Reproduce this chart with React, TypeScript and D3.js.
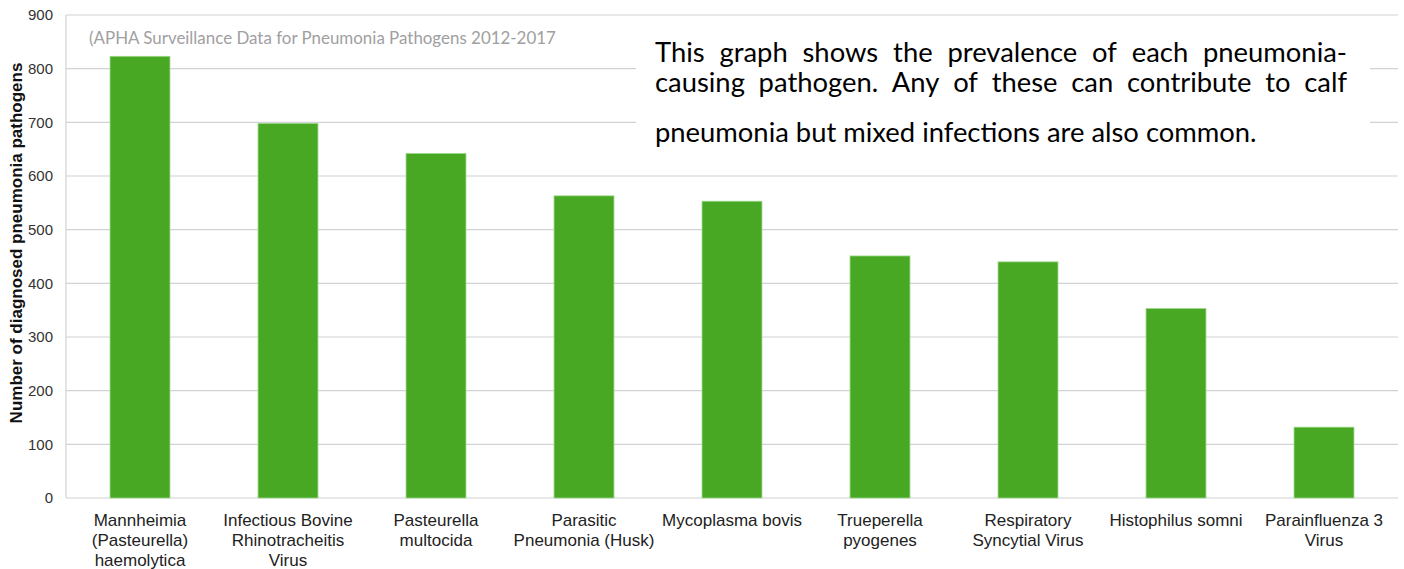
import React, { useMemo } from 'react';
import * as d3 from 'd3';

// APHA surveillance data, pneumonia pathogens 2012-2017
const pathogens = [
  'Mannheimia (Pasteurella) haemolytica',
  'Infectious Bovine Rhinotracheitis Virus',
  'Pasteurella multocida',
  'Parasitic Pneumonia (Husk)',
  'Mycoplasma bovis',
  'Trueperella pyogenes',
  'Respiratory Syncytial Virus',
  'Histophilus somni',
  'Parainfluenza 3 Virus',
];
const diagnoses = [823, 698, 642, 563, 553, 451, 440, 353, 132];
const pathogenLines = [
  ['Mannheimia', '(Pasteurella)', 'haemolytica'],
  ['Infectious Bovine', 'Rhinotracheitis', 'Virus'],
  ['Pasteurella', 'multocida'],
  ['Parasitic', 'Pneumonia (Husk)'],
  ['Mycoplasma bovis'],
  ['Trueperella', 'pyogenes'],
  ['Respiratory', 'Syncytial Virus'],
  ['Histophilus somni'],
  ['Parainfluenza 3', 'Virus'],
];
const yTicks = [0, 100, 200, 300, 400, 500, 600, 700, 800, 900];

const sourceNote = '(APHA Surveillance Data for Pneumonia Pathogens 2012-2017';
const noteLines = [
  'This graph shows the prevalence of each pneumonia-',
  'causing pathogen. Any of these can contribute to calf',
  'pneumonia but mixed infections are also common.',
];
const noteBaselines = [62, 92, 142];

const W = 1404;
const H = 569;
const margin = { top: 15, right: 6, bottom: 71, left: 66 };
const noteFont = 'Lato, "Open Sans", sans-serif';
const sansFont = '"Liberation Sans", Arial, sans-serif';

// measure text widths with a canvas so the note can be justified
let ctx: CanvasRenderingContext2D | null = null;
const measure = (text: string, font: string) => {
  if (!ctx) ctx = document.createElement('canvas').getContext('2d');
  ctx!.font = font;
  return ctx!.measureText(text).width;
};

const App = () => {
  const x = d3.scaleBand()
    .domain(pathogens)
    .range([margin.left, W - margin.right])
    .paddingInner(0.595)
    .paddingOuter(0.2975);

  const y = d3.scaleLinear()
    .domain([0, 900])
    .range([H - margin.bottom, margin.top]);

  // note text: fit size so last line spans ~602px, justify the first two
  const note = useMemo(() => {
    const left = 655;
    const right = 1347;
    const base = measure(noteLines[2], `1px ${noteFont}`);
    const size = 602 / base;
    const font = `${size}px ${noteFont}`;
    const lines = noteLines.map((line, i) => {
      const words = line.split(' ');
      if (i === noteLines.length - 1) {
        let cx = left;
        const space = measure(' ', font);
        return words.map(w => {
          const pos = cx;
          cx += measure(w, font) + space;
          return { w, pos };
        });
      }
      const widths = words.map(w => measure(w, font));
      const gap = (right - left - d3.sum(widths)) / (words.length - 1);
      let cx = left;
      return words.map((w, j) => {
        const pos = cx;
        cx += widths[j] + gap;
        return { w, pos };
      });
    });
    const srcSize = 468 / measure(sourceNote, `1px ${noteFont}`);
    return { size, lines, srcSize };
  }, []);

  return (
    <svg width={W} height={H} style={{ position: 'absolute', left: 0, top: 0, background: '#fff' }}>
      {/* gridlines */}
      <g>
        {yTicks.map(t => (
          <line key={t} x1={margin.left} x2={W - margin.right} y1={y(t)} y2={y(t)} stroke="#d2d2d2" strokeWidth={1.2} />
        ))}
        <line x1={margin.left} x2={margin.left} y1={y(900)} y2={y(0)} stroke="#d2d2d2" strokeWidth={1.2} />
      </g>

      {/* y tick labels */}
      <g fontFamily={sansFont} fontSize={15} fill="#333" textAnchor="end">
        {yTicks.map(t => (
          <text key={t} x={53} y={y(t)} dy="0.36em">{t}</text>
        ))}
      </g>

      <text
        transform={`translate(22,${243}) rotate(-90)`}
        textAnchor="middle"
        fontFamily={sansFont}
        fontSize={17}
        fontWeight="bold"
        fill="#111"
      >
        Number of diagnosed pneumonia pathogens
      </text>

      {/* bars */}
      <g>
        {pathogens.map((p, i) => (
          <rect
            key={p}
            x={x(p)}
            y={y(diagnoses[i])}
            width={x.bandwidth()}
            height={y(0) - y(diagnoses[i])}
            fill="#48a823"
            stroke="#9bd889"
            strokeWidth={0.8}
          />
        ))}
      </g>

      {/* x labels */}
      <g fontFamily={sansFont} fontSize={17} fill="#222" textAnchor="middle">
        {pathogens.map((p, i) => (
          <text key={p} x={x(p)! + x.bandwidth() / 2} y={526}>
            {pathogenLines[i].map((l, j) => (
              <tspan key={j} x={x(p)! + x.bandwidth() / 2} dy={j === 0 ? 0 : 20}>{l}</tspan>
            ))}
          </text>
        ))}
      </g>

      {/* source note */}
      <text x={89} y={44} fontFamily={noteFont} fontSize={note.srcSize} fill="#a0a0a0">
        {sourceNote}
      </text>

      {/* explanatory note over the chart */}
      <rect x={636} y={22} width={734} height={130} fill="#fff" />
      <g fontFamily={noteFont} fontSize={note.size} fill="#000">
        {note.lines.map((words, i) => (
          <text key={i} y={noteBaselines[i]}>
            {words.map((d, j) => (
              <tspan key={j} x={d.pos}>{d.w}</tspan>
            ))}
          </text>
        ))}
      </g>
    </svg>
  );
};

export default App;
